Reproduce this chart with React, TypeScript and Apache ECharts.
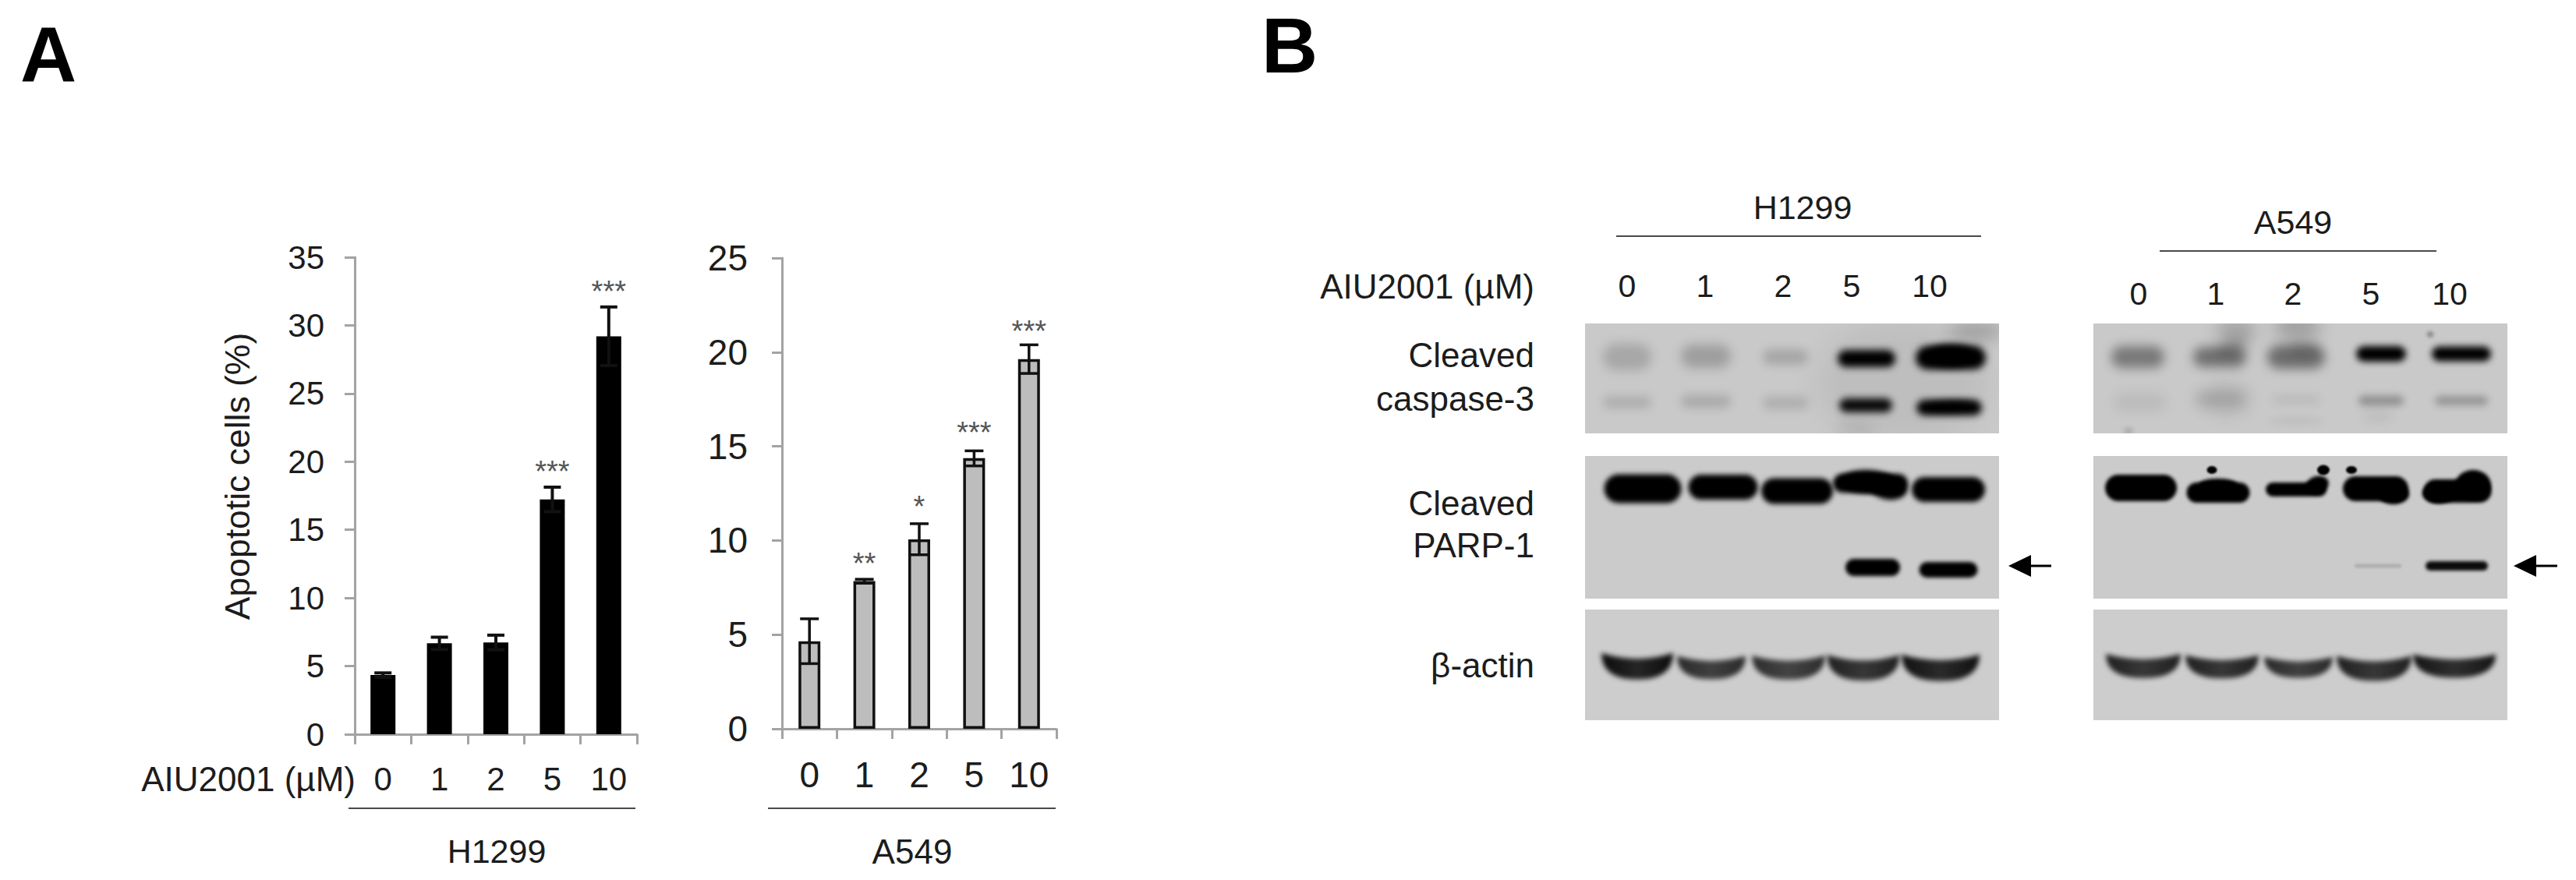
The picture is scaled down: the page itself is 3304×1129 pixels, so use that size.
import React, { useEffect, useRef } from "react";
import * as echarts from "echarts";

const doses = ["0", "1", "2", "5", "10"];
const h1299Mean = [4.34, 6.67, 6.73, 17.23, 29.2];
const h1299ErrHigh = [4.5, 7.12, 7.27, 18.13, 31.35];
const h1299ErrLow = [4.18, 6.22, 6.19, 16.33, 27.05];
const h1299Stars = ["", "", "", "***", "***"];
const a549Mean = [4.65, 7.84, 10.06, 14.37, 19.63];
const a549ErrHigh = [5.84, 7.94, 10.89, 14.76, 20.39];
const a549ErrLow = [3.46, 7.73, 9.24, 13.96, 18.87];
const a549Stars = ["", "**", "*", "***", "***"];
const h1299Ticks = [0, 35, 5];
const a549Ticks = [0, 25, 5];

// Band darkness per lane in the blot photographs (0 = none, 1 = black)
const hCasp3Upper = [0.17, 0.21, 0.17, 1, 1];
const hCasp3Lower = [0.13, 0.15, 0.13, 0.95, 1];
const hParpFull = [1, 1, 1, 1, 1];
const hParpCleaved = [1, 1];
const hActin = [0.95, 0.8, 0.78, 0.85, 0.92];
const aCasp3Upper = [0.4, 0.44, 0.46, 1, 1];
const aCasp3Lower = [0.07, 0.12, 0.08, 0.28, 0.26];
const aParpFull = [1, 1, 1, 1, 1];
const aParpCleaved = [0.14, 0.95];
const aActin = [0.85, 0.85, 0.8, 0.85, 0.9];

const FONT = '"Liberation Sans", Arial, sans-serif';
const INK = "#1c1c1c";
const AXIS = "#a3a3a3";

type Lane = [number, number, number, number]; // cx, cy, w, h in page px
type Row = { lanes: Lane[]; dark: number[]; smile?: boolean; blur: number[] };
type Blob = [number, number, number, number, number, number, number]; // cx, cy, w, h, alpha, blur, tilt

function lanes(xs: number[], ws: number[], hs: number[], ys: number[]): Lane[] {
  return xs.map((x, i) => [x, ys[i], ws[i], hs[i]] as Lane);
}

const blotRows: { x: number; y: number; w: number; h: number; bg: string; rows: Row[]; under?: Blob[]; over?: Blob[] }[] = [
  {
    x: 2033, y: 415, w: 531, h: 141, bg: "#c9c9c9",
    under: [
      [2535, 425, 70, 24, 0.2, 10, 0],
      [2440, 490, 220, 160, 0.05, 16, 0],
      [2380, 550, 50, 20, 0.07, 8, 0],
    ],
    over: [
      [2502, 456, 64, 28, 1, 5, 0],
      [2500, 521, 60, 12, 0.8, 5, -0.05],
    ],
    rows: [
      { lanes: lanes([2087, 2188, 2290, 2394, 2502], [62, 64, 58, 74, 90], [34, 30, 20, 22, 30], [458, 457, 458, 460, 459]), dark: hCasp3Upper, blur: [7, 7, 6, 5, 5] },
      { lanes: lanes([2087, 2188, 2290, 2393, 2500], [62, 64, 58, 68, 84], [16, 17, 16, 18, 20], [516, 515, 517, 520, 523]), dark: hCasp3Lower, blur: [6, 6, 6, 5, 5] },
    ],
  },
  {
    x: 2033, y: 585, w: 531, h: 183, bg: "#cbcbcb",
    over: [
      [2395, 618, 72, 30, 1, 3, 0.02],
      [2422, 626, 48, 30, 1, 3, 0.15],
    ],
    rows: [
      { lanes: lanes([2107, 2210, 2305, 2399, 2499], [99, 89, 92, 96, 94], [37, 32, 33, 24, 32], [627, 625, 630, 620, 628]), dark: hParpFull, blur: [3, 3, 3, 3, 3] },
      { lanes: lanes([2402, 2499], [70, 75], [22, 20], [728, 731]), dark: hParpCleaved, blur: [2.5, 2.5] },
    ],
  },
  {
    x: 2033, y: 782, w: 531, h: 142, bg: "#cdcdcd",
    rows: [
      { lanes: lanes([2100, 2195, 2294, 2390, 2489], [92, 88, 94, 93, 100], [34, 30, 31, 33, 34], [853, 855, 855, 855, 855]), dark: hActin, smile: true, blur: [3, 3, 3, 3, 3] },
    ],
  },
  {
    x: 2685, y: 415, w: 531, h: 141, bg: "#c9c9c9",
    under: [
      [2868, 425, 50, 36, 0.18, 10, 0],
      [2947, 420, 60, 34, 0.2, 10, 0],
      [2855, 512, 60, 44, 0.08, 10, 0],
      [3050, 535, 40, 14, 0.05, 6, 0],
      [2945, 540, 70, 10, 0.05, 5, 0],
    ],
    over: [
      [2730, 553, 10, 8, 0.2, 3, 0],
      [3117, 429, 9, 8, 0.3, 2, 0],
      [2862, 446, 40, 22, 0.15, 7, -0.4],
      [2955, 448, 40, 20, 0.12, 7, 0],
    ],
    rows: [
      { lanes: lanes([2742, 2847, 2945, 3054, 3157], [68, 68, 74, 64, 76], [28, 26, 30, 20, 19], [458, 458, 458, 454, 454]), dark: aCasp3Upper, blur: [7, 7, 7, 4.5, 4.5] },
      { lanes: lanes([2745, 2847, 2945, 3054, 3157], [66, 66, 60, 58, 68], [22, 20, 10, 13, 12], [516, 512, 513, 514, 514]), dark: aCasp3Lower, blur: [8, 8, 6, 5, 5] },
    ],
  },
  {
    x: 2685, y: 585, w: 531, h: 183, bg: "#cbcbcb",
    over: [
      [2837, 603, 13, 10, 1, 1, 0],
      [2980, 603, 16, 13, 1, 1, 0],
      [3016, 603, 14, 10, 1, 1, 0],
      [2972, 622, 30, 22, 1, 2, -0.3],
      [2845, 622, 50, 16, 1, 2, 0],
      [3070, 634, 40, 26, 1, 2, 0],
      [3172, 622, 46, 38, 1, 2, 0],
      [3128, 633, 42, 26, 1, 2, 0],
    ],
    rows: [
      { lanes: lanes([2746, 2845, 2945, 3047, 3152], [92, 81, 78, 84, 87], [34, 26, 18, 32, 30], [626, 632, 628, 627, 630]), dark: aParpFull, blur: [2, 2, 2, 2, 2] },
      { lanes: lanes([3050, 3151], [60, 80], [5, 12], [726, 726]), dark: aParpCleaved, blur: [1.5, 2] },
    ],
  },
  {
    x: 2685, y: 782, w: 531, h: 142, bg: "#cdcdcd",
    rows: [
      { lanes: lanes([2749, 2850, 2948, 3045, 3148], [96, 94, 88, 96, 106], [31, 30, 27, 32, 30], [853, 854, 855, 856, 853]), dark: aActin, smile: true, blur: [3, 3, 3, 3, 3] },
    ],
  },
];

function blotImage(b: (typeof blotRows)[number]): string {
  const c = document.createElement("canvas");
  c.width = b.w;
  c.height = b.h;
  const g = c.getContext("2d")!;
  g.fillStyle = b.bg;
  g.fillRect(0, 0, b.w, b.h);
  const blob = ([cx, cy, w, h, a, blur, tilt]: Blob) => {
    g.save();
    g.filter = `blur(${blur}px)`;
    g.translate(cx - b.x, cy - b.y);
    g.rotate(tilt);
    g.fillStyle = `rgba(0,0,0,${a})`;
    g.beginPath();
    g.ellipse(0, 0, w / 2, h / 2, 0, 0, Math.PI * 2);
    g.fill();
    g.restore();
  };
  (b.under || []).forEach(blob);
  b.rows.forEach((r) => {
    r.lanes.forEach(([cx, cy, w, h], i) => {
      const d = r.dark[i];
      if (!d) return;
      const x = cx - b.x;
      const y = cy - b.y;
      g.filter = `blur(${r.blur[i]}px)`;
      g.beginPath();
      if (r.smile) {
        const l = x - w / 2;
        const rr = x + w / 2;
        const grad = g.createLinearGradient(l, 0, rr, 0);
        grad.addColorStop(0, `rgba(0,0,0,${d})`);
        grad.addColorStop(0.5, `rgba(0,0,0,${d * 0.86})`);
        grad.addColorStop(1, `rgba(0,0,0,${d})`);
        g.fillStyle = grad;
        g.moveTo(l, y - h * 0.45);
        g.quadraticCurveTo(x, y - h * 0.02, rr, y - h * 0.45);
        g.quadraticCurveTo(rr, y + h * 0.55, x, y + h * 0.55);
        g.quadraticCurveTo(l, y + h * 0.55, l, y - h * 0.45);
      } else {
        g.fillStyle = `rgba(0,0,0,${d})`;
        g.roundRect(x - w / 2, y - h / 2, w, h, h / 2);
      }
      g.fill();
    });
  });
  (b.over || []).forEach(blob);
  return c.toDataURL("image/png");
}

function errorSeries(
  gridIndex: number, low: number[], high: number[], stars: string[], capHalf: number, stroke: number, starGap: number[]
) {
  return {
    type: "custom",
    xAxisIndex: gridIndex,
    yAxisIndex: gridIndex,
    z: 5,
    clip: false,
    encode: { x: 0, y: [1, 2] },
    data: doses.map((_, i) => [i, low[i], high[i]]),
    renderItem: (params: any, api: any) => {
      const i = api.value(0);
      const top = api.coord([i, api.value(2)]);
      const bot = api.coord([i, api.value(1)]);
      const line = (x1: number, y1: number, x2: number, y2: number) => ({
        type: "line",
        shape: { x1, y1, x2, y2 },
        style: { stroke: "#111", lineWidth: stroke },
      });
      const children: any[] = [
        line(top[0], top[1], top[0], bot[1]),
        line(top[0] - capHalf, top[1], top[0] + capHalf, top[1]),
        line(top[0] - capHalf, bot[1], top[0] + capHalf, bot[1]),
      ];
      const s = stars[params.dataIndex];
      if (s) {
        children.push({
          type: "text",
          style: {
            text: s, x: top[0], y: top[1] - starGap[params.dataIndex],
            align: "center", verticalAlign: "middle",
            fontFamily: FONT, fontSize: 38, fill: "#555",
          },
        });
      }
      return { type: "group", children };
    },
  };
}

const txt = (text: string, x: number, y: number, fontSize = 43, align = "center", extra: any = {}) => ({
  type: "text",
  z: 10,
  style: { text, x, y, fontSize, fontFamily: FONT, fill: INK, align, verticalAlign: "middle", ...extra },
});
const rule = (x1: number, x2: number, y: number, stroke = "#4a4a4a") => ({
  type: "line",
  z: 10,
  shape: { x1, y1: y, x2, y2: y },
  style: { stroke, lineWidth: 2 },
});
const arrow = (tip: number, head: number, end: number, y: number) => [
  { type: "polygon", z: 10, shape: { points: [[tip, y], [head, y - 14], [head, y + 14]] }, style: { fill: "#000" } },
  { type: "line", z: 10, shape: { x1: head, y1: y, x2: end, y2: y }, style: { stroke: "#000", lineWidth: 3 } },
];

function yAxis(gridIndex: number, ticks: number[], fontSize: number, margin: number, name?: string) {
  return {
    type: "value",
    gridIndex,
    min: ticks[0],
    max: ticks[1],
    interval: ticks[2],
    name,
    nameLocation: "middle",
    nameRotate: 90,
    nameGap: 128,
    nameTextStyle: { fontFamily: FONT, fontSize: 44.5, color: INK, padding: [0, 0, 0, 50] },
    axisLine: { show: true, lineStyle: { color: AXIS, width: 3 } },
    axisTick: { show: true, length: 13, lineStyle: { color: AXIS, width: 3 } },
    axisLabel: { fontFamily: FONT, fontSize, color: INK, margin },
    splitLine: { show: false },
  };
}
function xAxis(gridIndex: number, fontSize: number, margin: number) {
  return {
    type: "category",
    gridIndex,
    data: doses,
    axisLine: { show: true, lineStyle: { color: AXIS, width: 3 } },
    axisTick: { show: true, length: 13, alignWithLabel: false, lineStyle: { color: AXIS, width: 3 } },
    axisLabel: { fontFamily: FONT, fontSize, color: INK, margin, interval: 0 },
    splitLine: { show: false },
  };
}

export default function App() {
  const ref = useRef<HTMLDivElement>(null);
  useEffect(() => {
    document.body.style.margin = "0";
    const chart = echarts.init(ref.current!, undefined, { renderer: "svg" });
    const images = blotRows.map((b) => ({
      type: "image",
      z: 1,
      style: { image: blotImage(b), x: b.x, y: b.y, width: b.w, height: b.h },
    }));
    const hNumX = [2087, 2187, 2287, 2375, 2475];
    const aNumX = [2743, 2842, 2941, 3041, 3142];
    chart.setOption({
      animation: false,
      backgroundColor: "#fff",
      grid: [
        { left: 455, top: 330, width: 362, height: 612, containLabel: false },
        { left: 1003, top: 331, width: 352, height: 604, containLabel: false },
      ],
      xAxis: [xAxis(0, 42, 36), xAxis(1, 46, 36)],
      yAxis: [yAxis(0, h1299Ticks, 42, 39, "Apoptotic cells (%)"), yAxis(1, a549Ticks, 46, 44)],
      series: [
        {
          type: "bar", xAxisIndex: 0, yAxisIndex: 0, barWidth: 32, z: 3,
          data: h1299Mean, itemStyle: { color: "#000" },
        },
        errorSeries(0, h1299ErrLow, h1299ErrHigh, h1299Stars, 11, 4, [0, 0, 0, 20, 20]),
        {
          type: "bar", xAxisIndex: 1, yAxisIndex: 1, barWidth: 28, z: 3,
          data: a549Mean, itemStyle: { color: "#bdbdbd", borderColor: "#111", borderWidth: 3.5 },
        },
        errorSeries(1, a549ErrLow, a549ErrHigh, a549Stars, 12, 3.5, [0, 20, 22, 23, 17]),
      ],
      graphic: {
        elements: [
          ...images,
          txt("A", 62, 70, 100, "center", { fontWeight: "bold", fill: "#000" }),
          txt("B", 1654, 58, 100, "center", { fontWeight: "bold", fill: "#000" }),
          txt("AIU2001 (µM)", 456, 999, 44, "right"),
          rule(447, 815, 1037),
          txt("H1299", 637, 1092, 43),
          rule(985, 1354, 1037),
          txt("A549", 1170, 1092, 44),
          txt("H1299", 2312, 266, 43),
          rule(2073, 2541, 303),
          txt("AIU2001 (µM)", 1968, 367, 44, "right"),
          ...doses.map((d, i) => txt(d, hNumX[i], 367, 41)),
          txt("Cleaved", 1968, 455, 44, "right"),
          txt("caspase-3", 1968, 511, 44, "right"),
          txt("Cleaved", 1968, 645, 44, "right"),
          txt("PARP-1", 1968, 699, 44, "right"),
          txt("β-actin", 1968, 853, 44, "right"),
          ...arrow(2576, 2605, 2631, 726),
          txt("A549", 2941, 285, 43),
          rule(2770, 3125, 322),
          ...doses.map((d, i) => txt(d, aNumX[i], 377, 41)),
          ...arrow(3224, 3253, 3280, 726),
        ],
      },
    });
    return () => chart.dispose();
  }, []);
  return <div ref={ref} style={{ position: "absolute", left: 0, top: 0, width: 3304, height: 1129 }} />;
}
